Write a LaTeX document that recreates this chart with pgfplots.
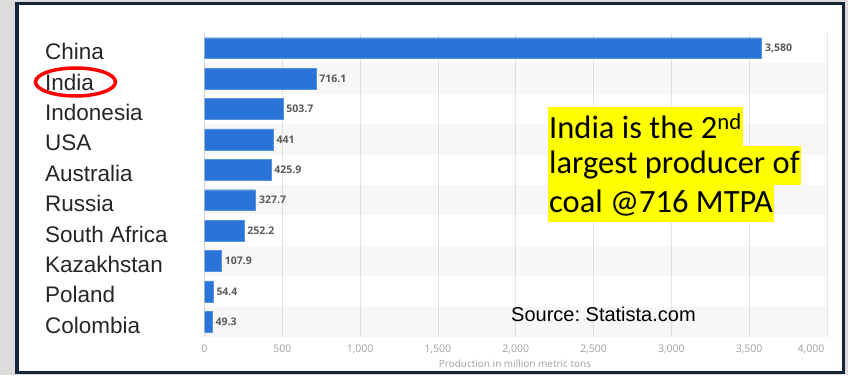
\documentclass[border=0pt]{standalone}
\usepackage{pgfplots}
\pgfplotsset{compat=1.18}
\usepackage{pgfplotstable}
\usepackage{fontspec}
\setmainfont{Liberation Sans}
\newfontfamily\carlito{Carlito}
\newfontfamily\opensans{Open Sans}
\definecolor{outer}{HTML}{DCDCDC}
\definecolor{framec}{HTML}{15263A}
\definecolor{barblue}{HTML}{2A74D9}
\definecolor{gridc}{HTML}{E6E6E6}
\definecolor{tickc}{HTML}{A0A0A0}
\definecolor{valc}{HTML}{5A5A5A}
\definecolor{hl}{HTML}{FFFF00}
\pgfplotstableread{
pos value label
0 3580 3,580
1 716.1 716.1
2 503.7 503.7
3 441 441
4 425.9 425.9
5 327.7 327.7
6 252.2 252.2
7 107.9 107.9
8 54.4 54.4
9 49.3 49.3
}\coal
\begin{document}
\frenchspacing
\begin{tikzpicture}[x=1pt,y=1pt]
\fill[outer] (0,0) rectangle (848,375);
\draw[framec, line width=3.5pt, fill=white] (17,2.5) rectangle (843.5,371.5);
\begin{axis}[
  at={(204.5pt,38pt)}, anchor=south west,
  scale only axis, width=622.5pt, height=304pt,
  xmin=0, xmax=4000, ymin=-0.5, ymax=9.5, y dir=reverse,
  xbar, bar width=0.69,
  axis line style={draw=none},
  major tick length=0pt,
  xtick={0,500,...,3500},
  extra x ticks={4000},
  extra x tick style={xticklabel style={xshift=-16pt}},
  xmajorgrids, grid style={gridc, line width=0.8pt},
  /pgf/number format/assume math mode=true,
  /pgf/number format/1000 sep={,},
  xticklabel style={font=\opensans\fontsize{10.5}{12}\selectfont, text=tickc, yshift=-4pt},
  ytick={0,...,9},
  yticklabels={China,India,Indonesia,USA,Australia,Russia,South Africa,Kazakhstan,Poland,Colombia},
  yticklabel style={font=\fontsize{22.5}{25}\selectfont, text=black!85, anchor=west, inner sep=0pt, xshift=-159.5pt, yshift=-3.5pt},
  point meta=explicit symbolic,
  nodes near coords,
  nodes near coords style={anchor=west, font=\opensans\bfseries\fontsize{10.5}{12}\selectfont, text=valc, xshift=0pt},
]
\fill[black, fill opacity=0.03] (axis cs:0,0.5) rectangle (axis cs:4000,1.5);
\fill[black, fill opacity=0.03] (axis cs:0,2.5) rectangle (axis cs:4000,3.5);
\fill[black, fill opacity=0.03] (axis cs:0,4.5) rectangle (axis cs:4000,5.5);
\fill[black, fill opacity=0.03] (axis cs:0,6.5) rectangle (axis cs:4000,7.5);
\fill[black, fill opacity=0.03] (axis cs:0,8.5) rectangle (axis cs:4000,9.5);
\addplot[fill=barblue, draw=barblue!80!white, line width=0.4pt] table[x=value, y=pos, meta=label] {\coal};
\draw[black!30, line width=0.8pt] (axis cs:0,-0.5) -- (axis cs:0,9.5);
\end{axis}
\node[font=\opensans\fontsize{10}{12}\selectfont, text=tickc] at (515,11) {Production in million metric tons};
\draw[red, line width=3.5pt] (75.5,293) ellipse [x radius=40, y radius=14];
\node[font=\fontsize{20}{24}\selectfont, anchor=west, inner sep=0pt] at (511,61) {Source: Statista.com};
\begin{scope}[every node/.style={fill=hl, anchor=west, inner xsep=1pt, inner ysep=0pt, minimum height=39pt, font=\carlito\fontsize{32.5}{38}\selectfont}]
\node at (548,248.5) {India is the 2\textsuperscript{nd}};
\node at (548,209.5) {largest producer of};
\node at (548,172) {coal @716 MTPA};
\end{scope}
\end{tikzpicture}
\end{document}
